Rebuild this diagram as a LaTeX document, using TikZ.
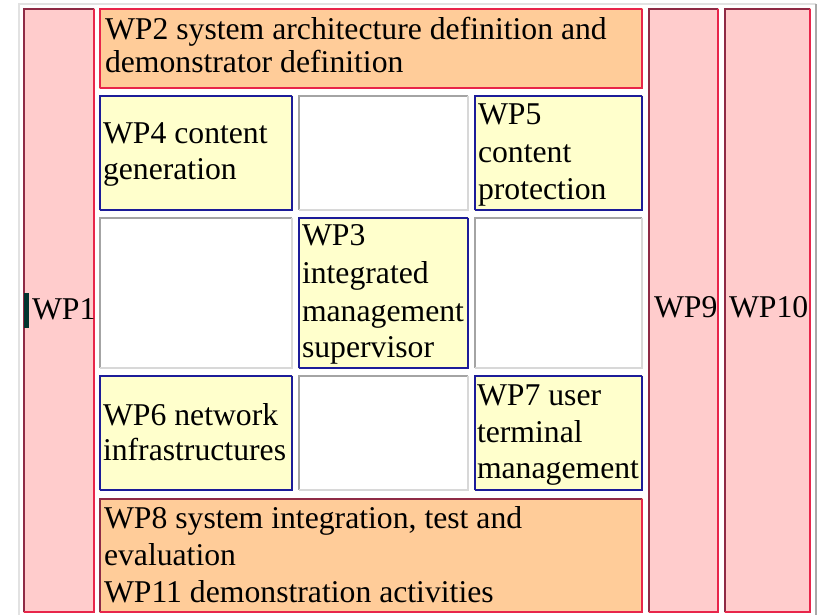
\documentclass[tikz,border=0pt]{standalone}
\usepackage{fontspec}
\setmainfont{Liberation Serif}
\definecolor{pinkfill}{HTML}{FFCCCC}
\definecolor{orangefill}{HTML}{FFCC99}
\definecolor{yellowfill}{HTML}{FFFFCC}
\definecolor{reddark}{HTML}{8E2A45}
\definecolor{redlight}{HTML}{E8254A}
\definecolor{navyline}{HTML}{1C1C99}
\definecolor{graydark}{HTML}{A4A4A4}
\definecolor{graylight}{HTML}{D8D8D8}
\definecolor{outerlight}{HTML}{E2E2E2}
\definecolor{outerdark}{HTML}{A8A8A8}
\definecolor{cursorcol}{HTML}{00332E}
\newcommand\twotone[3]{%
  \draw[#2, line width=2pt] ([shift={(1pt,1pt)}]#1.south west) -- ([shift={(1pt,-1pt)}]#1.north west) -- ([shift={(-1pt,-1pt)}]#1.north east);
  \draw[#3, line width=2pt] ([shift={(-1pt,-1pt)}]#1.north east) -- ([shift={(-1pt,1pt)}]#1.south east) -- ([shift={(1pt,1pt)}]#1.south west);}
\tikzset{
  cellbox/.style={anchor=north west, inner sep=0pt, outer sep=0pt, draw=none},
  pinkcell/.style={cellbox, fill=pinkfill},
  orangecell/.style={cellbox, fill=orangefill},
  yellowcell/.style={cellbox, fill=yellowfill},
  emptycell/.style={cellbox, fill=white},
  txt/.style={anchor=base west, inner sep=0pt, outer sep=0pt, font=\fontsize{31.7}{37}\selectfont, text=black}
}
\begin{document}
\begin{tikzpicture}[x=1pt, y=-1pt]
\useasboundingbox (0,0) rectangle (822,615);
\fill[white] (0,0) rectangle (822,615);
% outer table border
\draw[outerlight, line width=2pt] (19,615) -- (19,4) -- (816,4);
\draw[outerdark, line width=2pt] (816,4) -- (816,615);
% cells
\node[pinkcell, minimum width=72pt, minimum height=605pt] (wp1) at (23,8) {};
\node[orangecell, minimum width=544pt, minimum height=81pt] (wp2) at (99,8) {};
\node[yellowcell, minimum width=194pt, minimum height=116pt] (wp4) at (99,95) {};
\node[emptycell, minimum width=171pt, minimum height=116pt] (e1) at (298,95) {};
\node[yellowcell, minimum width=169pt, minimum height=116pt] (wp5) at (474,95) {};
\node[emptycell, minimum width=194pt, minimum height=152pt] (e2) at (99,217) {};
\node[yellowcell, minimum width=171pt, minimum height=152pt] (wp3) at (298,217) {};
\node[emptycell, minimum width=169pt, minimum height=152pt] (e3) at (474,217) {};
\node[yellowcell, minimum width=194pt, minimum height=116pt] (wp6) at (99,375) {};
\node[emptycell, minimum width=171pt, minimum height=116pt] (e4) at (298,375) {};
\node[yellowcell, minimum width=169pt, minimum height=116pt] (wp7) at (474,375) {};
\node[orangecell, minimum width=544pt, minimum height=115pt] (wp8) at (99,498) {};
\node[pinkcell, minimum width=71pt, minimum height=605pt] (wp9) at (648,8) {};
\node[pinkcell, minimum width=87pt, minimum height=605pt] (wp10) at (724,8) {};
% borders
\twotone{wp1}{reddark}{redlight}
\twotone{wp2}{redlight}{redlight}
\twotone{wp8}{reddark}{redlight}
\twotone{wp9}{reddark}{redlight}
\twotone{wp10}{reddark}{redlight}
\twotone{wp4}{navyline}{navyline}
\twotone{wp5}{navyline}{navyline}
\twotone{wp3}{navyline}{navyline}
\twotone{wp6}{navyline}{navyline}
\twotone{wp7}{navyline}{navyline}
\twotone{e1}{graydark}{graylight}
\twotone{e2}{graydark}{graylight}
\twotone{e3}{graydark}{graylight}
\twotone{e4}{graydark}{graylight}
% texts
\node[txt] (t1) at (32,319) {WP1};
\node[txt] (t2a) at (105,40) {WP2 system architecture definition and};
\node[txt] (t2b) at (105,73) {demonstrator definition};
\node[txt] (t4a) at (103,143) {WP4 content};
\node[txt] (t4b) at (103,179) {generation};
\node[txt] (t5a) at (478,125) {WP5};
\node[txt] (t5b) at (478,162) {content};
\node[txt] (t5c) at (478,200) {protection};
\node[txt] (t3a) at (302,245) {WP3};
\node[txt] (t3b) at (302,283) {integrated};
\node[txt] (t3c) at (302,321) {management};
\node[txt] (t3d) at (302,357) {supervisor};
\node[txt] (t6a) at (103,425) {WP6 network};
\node[txt] (t6b) at (103,460) {infrastructures};
\node[txt] (t7a) at (477,405) {WP7 user};
\node[txt] (t7b) at (477,442) {terminal};
\node[txt] (t7c) at (477,478) {management};
\node[txt] (t8a) at (104,528) {WP8 system integration, test and};
\node[txt] (t8b) at (104,565) {evaluation};
\node[txt] (t8c) at (104,602) {WP11 demonstration activities};
\node[txt] (t9) at (654,317) {WP9};
\node[txt] (t10) at (729,317) {WP10};
% text cursor
\fill[cursorcol] (24,293) rectangle (29,328);
\end{tikzpicture}
\end{document}
